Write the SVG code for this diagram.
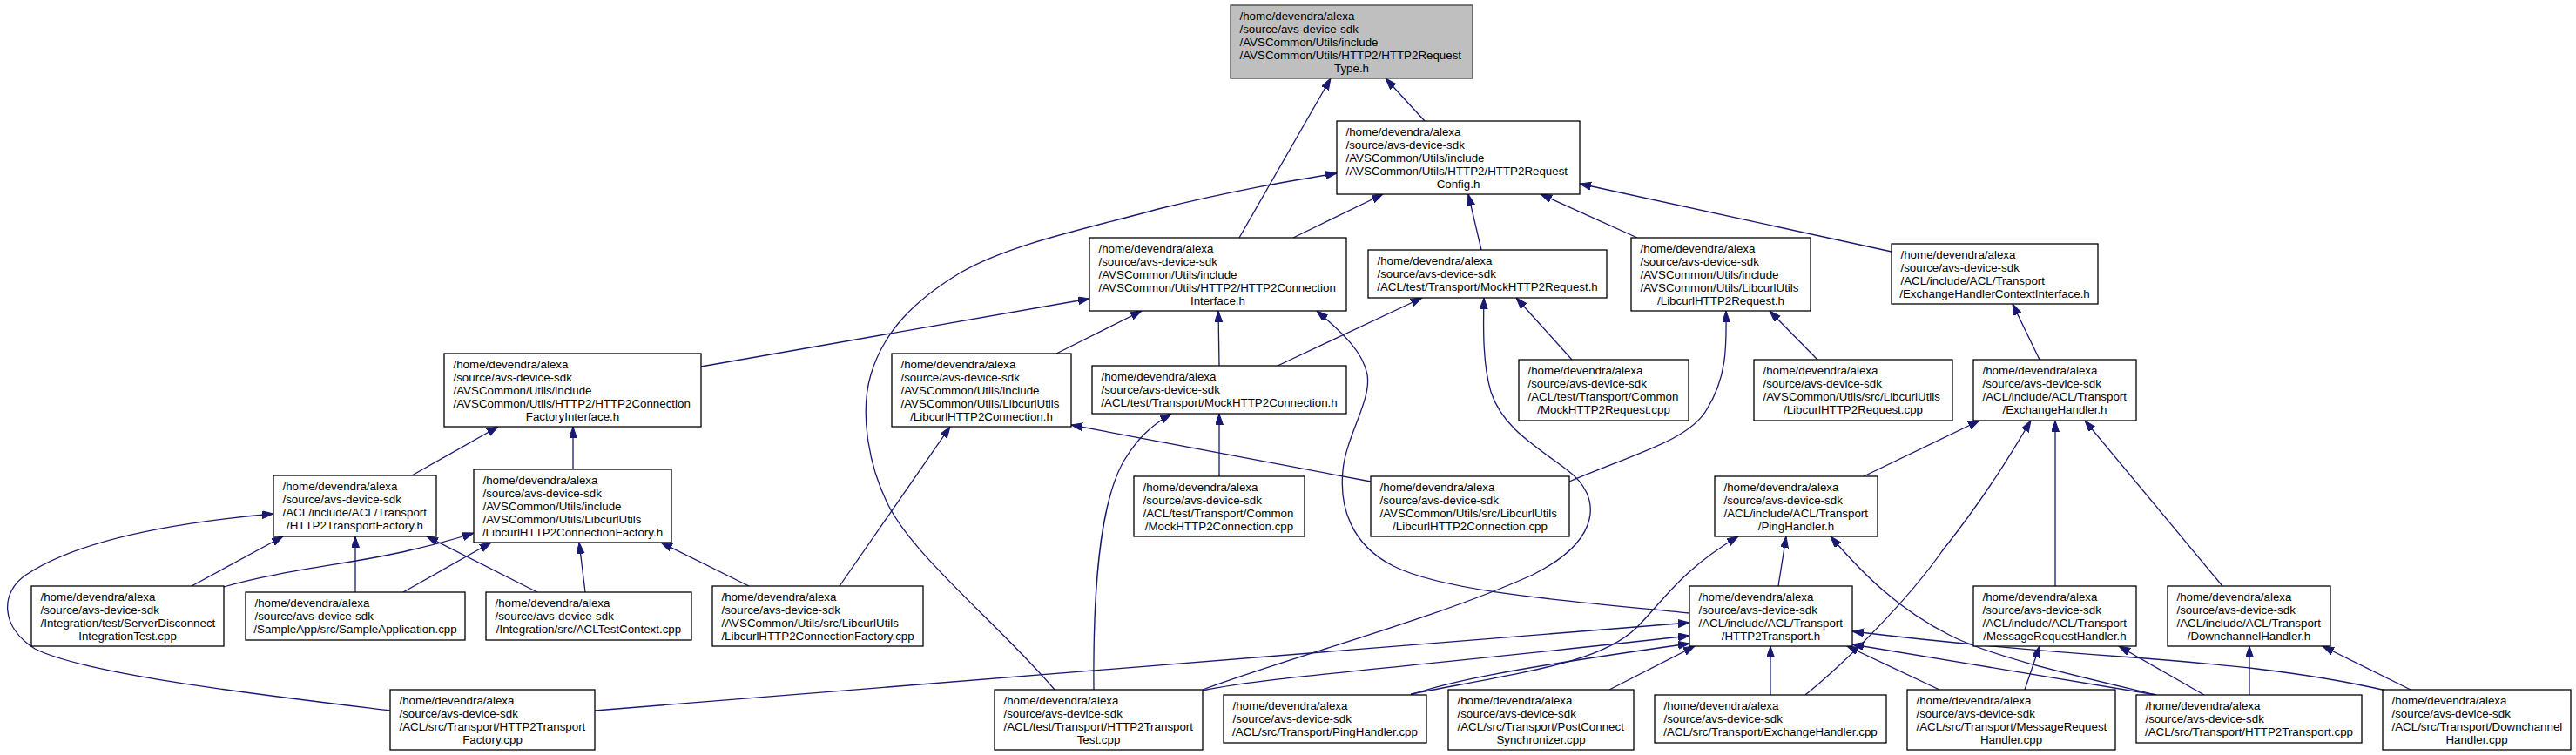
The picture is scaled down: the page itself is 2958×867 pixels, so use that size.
<svg xmlns="http://www.w3.org/2000/svg" width="2958" height="867" viewBox="0 0 2958 867">
<style>
.node rect{fill:#fff;stroke:#000;stroke-width:1.3}
.node.cur rect{fill:#bfbfbf;stroke:#404040}
.node text{font-family:"Liberation Sans",Arial,Helvetica,sans-serif;font-size:13.33px;fill:#000}
.m{text-anchor:middle}
#edges path{fill:none;stroke:#191970;stroke-width:1.3;marker-end:url(#ah)}
</style>
<defs>
<marker id="ah" markerUnits="userSpaceOnUse" markerWidth="14" markerHeight="10" refX="13" refY="4.5" orient="auto">
<path d="M0,0 L13,4.5 L0,9 z" fill="#191970" stroke="#191970" stroke-width="1"/>
</marker>
</defs>
<rect width="2958" height="867" fill="#fff"/>
<g id="edges">
<path d="M1636,139 L1591,90"/>
<path d="M1423,273 L1528,90"/>
<path d="M1485,273 L1588,223"/>
<path d="M1701,287 L1686,223"/>
<path d="M1880,273 L1769,223"/>
<path d="M2172,289 L1814,211"/>
<path d="M1211,792 C1150,720 1050,640 1020,580 C995,530 988,470 1000,430 C1015,380 1050,345 1103,313 C1160,280 1250,262 1330,240 C1420,218 1480,208 1535,199"/>
<path d="M805,421 L1251,343"/>
<path d="M1213,406 L1311,357"/>
<path d="M1400,420 L1399,357"/>
<path d="M1940,704 C1800,690 1660,680 1600,650 C1550,625 1538,580 1542,540 C1546,500 1575,460 1570,430 C1565,405 1545,385 1512,357"/>
<path d="M1465,421 L1633,342"/>
<path d="M1381,792 C1480,755 1650,710 1760,660 C1840,620 1840,570 1800,540 C1760,510 1725,490 1712,450 C1703,420 1703,380 1704,342"/>
<path d="M1805,413 L1741,342"/>
<path d="M1802,553 C1880,520 1940,505 1960,470 C1985,430 1982,390 1982,357"/>
<path d="M2087,413 L2032,357"/>
<path d="M1574,553 Q1350,510 1230,488"/>
<path d="M2342,413 L2311,349"/>
<path d="M473,546 L572,490"/>
<path d="M658,539 L658,490"/>
<path d="M964,673 L1091,490"/>
<path d="M1400,547 L1400,475"/>
<path d="M1256,792 C1255,680 1262,580 1290,530 C1305,505 1320,490 1345,475"/>
<path d="M2140,547 L2273,483"/>
<path d="M2073,798 C2120,760 2190,690 2230,633 C2280,570 2310,520 2332,483"/>
<path d="M2360,673 L2360,483"/>
<path d="M2552,673 L2394,483"/>
<path d="M220,673 L325,616"/>
<path d="M408,680 L408,616"/>
<path d="M617,680 L490,616"/>
<path d="M448,816 C300,798 100,775 40,745 C0,720 0,680 30,660 C90,620 200,600 314,590"/>
<path d="M463,680 L564,623"/>
<path d="M672,680 L665,623"/>
<path d="M257,674 C320,655 420,645 470,632 C500,625 520,620 544,612"/>
<path d="M860,673 L759,623"/>
<path d="M683,816 L1940,715"/>
<path d="M1381,793 C1450,778 1600,768 1940,730"/>
<path d="M1620,798 C1660,784 1720,770 1940,739"/>
<path d="M1620,797 C1760,770 1840,760 1880,720 C1910,690 1930,655 1996,616"/>
<path d="M2042,673 L2051,616"/>
<path d="M2476,798 C2380,775 2290,755 2240,730 C2180,700 2140,660 2102,616"/>
<path d="M1848,792 L1946,742"/>
<path d="M2033,798 L2033,742"/>
<path d="M2227,792 L2121,742"/>
<path d="M2476,798 L2127,740"/>
<path d="M2740,793 C2640,770 2540,762 2450,755 C2350,748 2250,740 2127,725"/>
<path d="M2325,792 L2342,742"/>
<path d="M2531,798 L2433,742"/>
<path d="M2583,798 L2583,742"/>
<path d="M2768,792 L2667,742"/>
</g>
<g id="node-A" class="node cur"><rect x="1413" y="6" width="278" height="84"/><text y="22.5"><tspan x="1423.5">/home/devendra/alexa</tspan><tspan x="1423.5" dy="15">/source/avs-device-sdk</tspan><tspan x="1423.5" dy="15">/AVSCommon/Utils/include</tspan><tspan x="1423.5" dy="15">/AVSCommon/Utils/HTTP2/HTTP2Request</tspan><tspan class="m" x="1552" dy="15">Type.h</tspan></text></g>
<g id="node-B" class="node"><rect x="1535" y="139" width="279" height="84"/><text y="155.5"><tspan x="1545.5">/home/devendra/alexa</tspan><tspan x="1545.5" dy="15">/source/avs-device-sdk</tspan><tspan x="1545.5" dy="15">/AVSCommon/Utils/include</tspan><tspan x="1545.5" dy="15">/AVSCommon/Utils/HTTP2/HTTP2Request</tspan><tspan class="m" x="1674.5" dy="15">Config.h</tspan></text></g>
<g id="node-C" class="node"><rect x="1251" y="273" width="295" height="84"/><text y="289.5"><tspan x="1261.5">/home/devendra/alexa</tspan><tspan x="1261.5" dy="15">/source/avs-device-sdk</tspan><tspan x="1261.5" dy="15">/AVSCommon/Utils/include</tspan><tspan x="1261.5" dy="15">/AVSCommon/Utils/HTTP2/HTTP2Connection</tspan><tspan class="m" x="1398.5" dy="15">Interface.h</tspan></text></g>
<g id="node-D" class="node"><rect x="1571" y="287" width="274" height="55"/><text y="304"><tspan x="1581.5">/home/devendra/alexa</tspan><tspan x="1581.5" dy="15">/source/avs-device-sdk</tspan><tspan class="m" x="1708" dy="15">/ACL/test/Transport/MockHTTP2Request.h</tspan></text></g>
<g id="node-E" class="node"><rect x="1873" y="273" width="206" height="84"/><text y="289.5"><tspan x="1883.5">/home/devendra/alexa</tspan><tspan x="1883.5" dy="15">/source/avs-device-sdk</tspan><tspan x="1883.5" dy="15">/AVSCommon/Utils/include</tspan><tspan x="1883.5" dy="15">/AVSCommon/Utils/LibcurlUtils</tspan><tspan class="m" x="1976" dy="15">/LibcurlHTTP2Request.h</tspan></text></g>
<g id="node-F" class="node"><rect x="2172" y="280" width="237" height="69"/><text y="296.5"><tspan x="2182.5">/home/devendra/alexa</tspan><tspan x="2182.5" dy="15">/source/avs-device-sdk</tspan><tspan x="2182.5" dy="15">/ACL/include/ACL/Transport</tspan><tspan class="m" x="2290.5" dy="15">/ExchangeHandlerContextInterface.h</tspan></text></g>
<g id="node-G" class="node"><rect x="510" y="406" width="295" height="84"/><text y="422.5"><tspan x="520.5">/home/devendra/alexa</tspan><tspan x="520.5" dy="15">/source/avs-device-sdk</tspan><tspan x="520.5" dy="15">/AVSCommon/Utils/include</tspan><tspan x="520.5" dy="15">/AVSCommon/Utils/HTTP2/HTTP2Connection</tspan><tspan class="m" x="657.5" dy="15">FactoryInterface.h</tspan></text></g>
<g id="node-H" class="node"><rect x="1024" y="406" width="206" height="84"/><text y="422.5"><tspan x="1034.5">/home/devendra/alexa</tspan><tspan x="1034.5" dy="15">/source/avs-device-sdk</tspan><tspan x="1034.5" dy="15">/AVSCommon/Utils/include</tspan><tspan x="1034.5" dy="15">/AVSCommon/Utils/LibcurlUtils</tspan><tspan class="m" x="1127" dy="15">/LibcurlHTTP2Connection.h</tspan></text></g>
<g id="node-I" class="node"><rect x="1254" y="420" width="292" height="55"/><text y="437"><tspan x="1264.5">/home/devendra/alexa</tspan><tspan x="1264.5" dy="15">/source/avs-device-sdk</tspan><tspan class="m" x="1400" dy="15">/ACL/test/Transport/MockHTTP2Connection.h</tspan></text></g>
<g id="node-J" class="node"><rect x="1744" y="413" width="195" height="70"/><text y="430"><tspan x="1754.5">/home/devendra/alexa</tspan><tspan x="1754.5" dy="15">/source/avs-device-sdk</tspan><tspan x="1754.5" dy="15">/ACL/test/Transport/Common</tspan><tspan class="m" x="1841.5" dy="15">/MockHTTP2Request.cpp</tspan></text></g>
<g id="node-K" class="node"><rect x="2014" y="413" width="228" height="70"/><text y="430"><tspan x="2024.5">/home/devendra/alexa</tspan><tspan x="2024.5" dy="15">/source/avs-device-sdk</tspan><tspan x="2024.5" dy="15">/AVSCommon/Utils/src/LibcurlUtils</tspan><tspan class="m" x="2128" dy="15">/LibcurlHTTP2Request.cpp</tspan></text></g>
<g id="node-L" class="node"><rect x="2266" y="413" width="187" height="70"/><text y="430"><tspan x="2276.5">/home/devendra/alexa</tspan><tspan x="2276.5" dy="15">/source/avs-device-sdk</tspan><tspan x="2276.5" dy="15">/ACL/include/ACL/Transport</tspan><tspan class="m" x="2359.5" dy="15">/ExchangeHandler.h</tspan></text></g>
<g id="node-M" class="node"><rect x="314" y="546" width="187" height="70"/><text y="563"><tspan x="324.5">/home/devendra/alexa</tspan><tspan x="324.5" dy="15">/source/avs-device-sdk</tspan><tspan x="324.5" dy="15">/ACL/include/ACL/Transport</tspan><tspan class="m" x="407.5" dy="15">/HTTP2TransportFactory.h</tspan></text></g>
<g id="node-N" class="node"><rect x="544" y="539" width="227" height="84"/><text y="555.5"><tspan x="554.5">/home/devendra/alexa</tspan><tspan x="554.5" dy="15">/source/avs-device-sdk</tspan><tspan x="554.5" dy="15">/AVSCommon/Utils/include</tspan><tspan x="554.5" dy="15">/AVSCommon/Utils/LibcurlUtils</tspan><tspan class="m" x="657.5" dy="15">/LibcurlHTTP2ConnectionFactory.h</tspan></text></g>
<g id="node-O" class="node"><rect x="1302" y="547" width="196" height="69"/><text y="563.5"><tspan x="1312.5">/home/devendra/alexa</tspan><tspan x="1312.5" dy="15">/source/avs-device-sdk</tspan><tspan x="1312.5" dy="15">/ACL/test/Transport/Common</tspan><tspan class="m" x="1400" dy="15">/MockHTTP2Connection.cpp</tspan></text></g>
<g id="node-P" class="node"><rect x="1574" y="547" width="228" height="69"/><text y="563.5"><tspan x="1584.5">/home/devendra/alexa</tspan><tspan x="1584.5" dy="15">/source/avs-device-sdk</tspan><tspan x="1584.5" dy="15">/AVSCommon/Utils/src/LibcurlUtils</tspan><tspan class="m" x="1688" dy="15">/LibcurlHTTP2Connection.cpp</tspan></text></g>
<g id="node-Q" class="node"><rect x="1969" y="547" width="187" height="69"/><text y="563.5"><tspan x="1979.5">/home/devendra/alexa</tspan><tspan x="1979.5" dy="15">/source/avs-device-sdk</tspan><tspan x="1979.5" dy="15">/ACL/include/ACL/Transport</tspan><tspan class="m" x="2062.5" dy="15">/PingHandler.h</tspan></text></g>
<g id="node-R" class="node"><rect x="36" y="673" width="221" height="69"/><text y="689.5"><tspan x="46.5">/home/devendra/alexa</tspan><tspan x="46.5" dy="15">/source/avs-device-sdk</tspan><tspan x="46.5" dy="15">/Integration/test/ServerDisconnect</tspan><tspan class="m" x="146.5" dy="15">IntegrationTest.cpp</tspan></text></g>
<g id="node-S" class="node"><rect x="282" y="680" width="252" height="55"/><text y="697"><tspan x="292.5">/home/devendra/alexa</tspan><tspan x="292.5" dy="15">/source/avs-device-sdk</tspan><tspan class="m" x="408" dy="15">/SampleApp/src/SampleApplication.cpp</tspan></text></g>
<g id="node-T" class="node"><rect x="558" y="680" width="236" height="55"/><text y="697"><tspan x="568.5">/home/devendra/alexa</tspan><tspan x="568.5" dy="15">/source/avs-device-sdk</tspan><tspan class="m" x="676" dy="15">/Integration/src/ACLTestContext.cpp</tspan></text></g>
<g id="node-U" class="node"><rect x="818" y="673" width="242" height="69"/><text y="689.5"><tspan x="828.5">/home/devendra/alexa</tspan><tspan x="828.5" dy="15">/source/avs-device-sdk</tspan><tspan x="828.5" dy="15">/AVSCommon/Utils/src/LibcurlUtils</tspan><tspan class="m" x="939" dy="15">/LibcurlHTTP2ConnectionFactory.cpp</tspan></text></g>
<g id="node-V" class="node"><rect x="1940" y="673" width="187" height="69"/><text y="689.5"><tspan x="1950.5">/home/devendra/alexa</tspan><tspan x="1950.5" dy="15">/source/avs-device-sdk</tspan><tspan x="1950.5" dy="15">/ACL/include/ACL/Transport</tspan><tspan class="m" x="2033.5" dy="15">/HTTP2Transport.h</tspan></text></g>
<g id="node-W" class="node"><rect x="2266" y="673" width="187" height="69"/><text y="689.5"><tspan x="2276.5">/home/devendra/alexa</tspan><tspan x="2276.5" dy="15">/source/avs-device-sdk</tspan><tspan x="2276.5" dy="15">/ACL/include/ACL/Transport</tspan><tspan class="m" x="2359.5" dy="15">/MessageRequestHandler.h</tspan></text></g>
<g id="node-X" class="node"><rect x="2489" y="673" width="187" height="69"/><text y="689.5"><tspan x="2499.5">/home/devendra/alexa</tspan><tspan x="2499.5" dy="15">/source/avs-device-sdk</tspan><tspan x="2499.5" dy="15">/ACL/include/ACL/Transport</tspan><tspan class="m" x="2582.5" dy="15">/DownchannelHandler.h</tspan></text></g>
<g id="node-Y" class="node"><rect x="448" y="792" width="235" height="69"/><text y="808.5"><tspan x="458.5">/home/devendra/alexa</tspan><tspan x="458.5" dy="15">/source/avs-device-sdk</tspan><tspan x="458.5" dy="15">/ACL/src/Transport/HTTP2Transport</tspan><tspan class="m" x="565.5" dy="15">Factory.cpp</tspan></text></g>
<g id="node-Z" class="node"><rect x="1142" y="792" width="239" height="69"/><text y="808.5"><tspan x="1152.5">/home/devendra/alexa</tspan><tspan x="1152.5" dy="15">/source/avs-device-sdk</tspan><tspan x="1152.5" dy="15">/ACL/test/Transport/HTTP2Transport</tspan><tspan class="m" x="1261.5" dy="15">Test.cpp</tspan></text></g>
<g id="node-AA" class="node"><rect x="1405" y="798" width="233" height="55"/><text y="815"><tspan x="1415.5">/home/devendra/alexa</tspan><tspan x="1415.5" dy="15">/source/avs-device-sdk</tspan><tspan class="m" x="1521.5" dy="15">/ACL/src/Transport/PingHandler.cpp</tspan></text></g>
<g id="node-AB" class="node"><rect x="1663" y="792" width="213" height="69"/><text y="808.5"><tspan x="1673.5">/home/devendra/alexa</tspan><tspan x="1673.5" dy="15">/source/avs-device-sdk</tspan><tspan x="1673.5" dy="15">/ACL/src/Transport/PostConnect</tspan><tspan class="m" x="1769.5" dy="15">Synchronizer.cpp</tspan></text></g>
<g id="node-AC" class="node"><rect x="1900" y="798" width="266" height="55"/><text y="815"><tspan x="1910.5">/home/devendra/alexa</tspan><tspan x="1910.5" dy="15">/source/avs-device-sdk</tspan><tspan class="m" x="2033" dy="15">/ACL/src/Transport/ExchangeHandler.cpp</tspan></text></g>
<g id="node-AD" class="node"><rect x="2190" y="792" width="239" height="69"/><text y="808.5"><tspan x="2200.5">/home/devendra/alexa</tspan><tspan x="2200.5" dy="15">/source/avs-device-sdk</tspan><tspan x="2200.5" dy="15">/ACL/src/Transport/MessageRequest</tspan><tspan class="m" x="2309.5" dy="15">Handler.cpp</tspan></text></g>
<g id="node-AE" class="node"><rect x="2453" y="798" width="259" height="55"/><text y="815"><tspan x="2463.5">/home/devendra/alexa</tspan><tspan x="2463.5" dy="15">/source/avs-device-sdk</tspan><tspan class="m" x="2582.5" dy="15">/ACL/src/Transport/HTTP2Transport.cpp</tspan></text></g>
<g id="node-AF" class="node"><rect x="2736" y="792" width="216" height="69"/><text y="808.5"><tspan x="2746.5">/home/devendra/alexa</tspan><tspan x="2746.5" dy="15">/source/avs-device-sdk</tspan><tspan x="2746.5" dy="15">/ACL/src/Transport/Downchannel</tspan><tspan class="m" x="2844" dy="15">Handler.cpp</tspan></text></g>
</svg>
